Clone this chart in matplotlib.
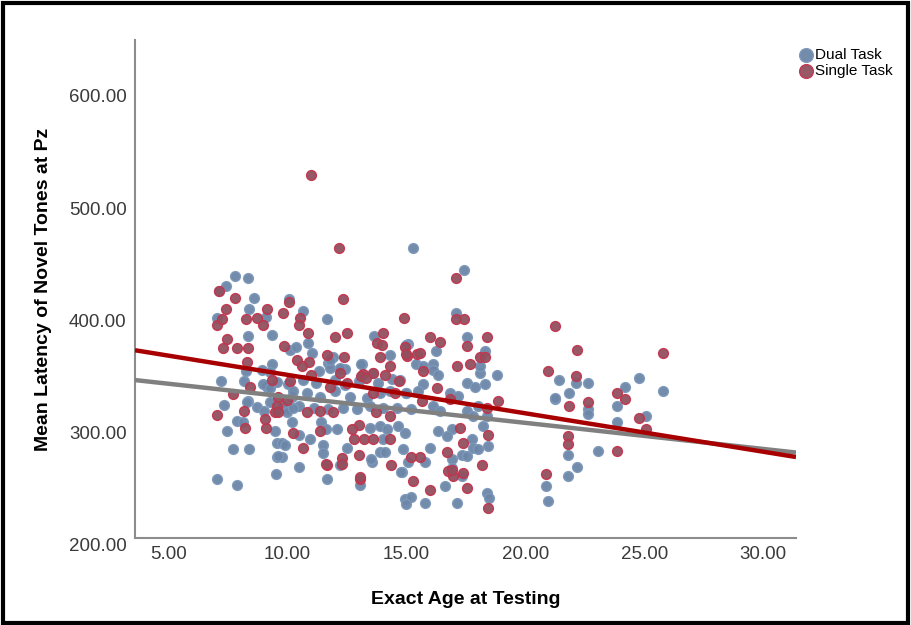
import matplotlib
matplotlib.use("Agg")
import matplotlib.pyplot as plt
from matplotlib.patches import Rectangle

# data
dual_age = [7.79, 8.33, 7.42, 7.13, 8.59, 8.40, 7.05, 9.10, 9.33, 8.35, 8.26, 8.92, 9.33, 7.19,
            8.17, 8.35, 7.33, 7.89, 8.14, 7.47, 9.47, 7.72, 8.39, 9.57, 9.57, 7.05, 7.89, 9.52,
            8.70, 9.00, 9.13, 9.26, 10.08, 10.66, 11.65, 13.65, 10.85, 10.10, 10.36, 11.02, 11.93,
            11.71, 11.79, 12.20, 12.41, 11.34, 13.11, 14.30, 15.08, 15.40, 15.26, 10.20, 10.80,
            11.37, 12.00, 12.63, 13.33, 13.90, 14.30, 15.00, 9.97, 10.50, 11.10, 11.70, 12.34,
            12.90, 13.47, 14.00, 14.60, 15.20, 10.20, 11.40, 11.60, 12.10, 13.47, 13.90, 14.20,
            14.65, 14.93, 10.50, 9.76, 10.95, 14.00, 11.50, 11.50, 12.50, 13.54, 13.90, 14.10,
            14.86, 15.08, 9.76, 12.20, 10.50, 14.80, 11.65, 13.04, 14.94, 15.20, 17.42, 17.10,
            17.53, 16.24, 18.30, 16.13, 16.13, 16.34, 18.09, 18.80, 18.10, 17.53, 17.88, 18.30,
            15.70, 16.83, 17.18, 16.13, 16.41, 17.53, 18.00, 18.37, 17.80, 16.90, 16.34, 16.69,
            18.23, 17.74, 18.43, 17.80, 18.00, 15.99, 15.78, 16.90, 17.32, 17.53, 16.90, 17.32,
            16.62, 18.37, 18.48, 17.13, 15.78, 20.86, 20.96, 21.24, 21.42, 22.12, 22.64, 21.24,
            21.84, 22.64, 22.64, 24.18, 24.78, 23.83, 25.80, 25.06, 23.86, 23.06, 21.80, 22.18,
            21.80, 13.50, 14.77, 14.96,
            8.98, 9.26, 9.54, 10.03, 10.24, 9.26, 8.29, 9.82, 9.97, 10.24, 9.90, 9.61,
            10.66, 11.79, 12.20, 12.00, 13.10, 13.60, 14.72, 15.00, 15.70, 15.50, 15.00,
            11.20, 12.40, 13.00, 13.80, 14.40]
dual_lat = [434, 432, 425, 420, 414, 404, 396, 397, 381, 380, 349, 350, 355, 340,
            340, 322, 319, 304, 303, 295, 295, 279, 279, 285, 272, 253, 247, 257,
            317, 313, 335, 321, 413, 402, 395, 380, 374, 368, 370, 365, 361,
            356, 352, 351, 351, 349, 355, 363, 373, 355, 459, 326, 329,
            326, 331, 326, 325, 329, 331, 329, 316, 318, 316, 315, 316,
            315, 318, 316, 316, 315, 303, 303, 297, 297, 298, 300, 297,
            300, 294, 292, 285, 288, 288, 283, 276, 280, 268, 277, 277,
            279, 268, 272, 265, 263, 259, 253, 247, 235, 237, 439, 401,
            379, 367, 367, 355, 350, 345, 347, 345, 353, 338, 335, 337,
            337, 329, 327, 318, 313, 313, 318, 309, 309, 297, 295, 291,
            300, 288, 282, 280, 279, 280, 268, 270, 274, 273, 262, 255,
            246, 240, 236, 231, 231, 246, 233, 324, 341, 338, 338, 325,
            329, 315, 311, 335, 343, 318, 331, 309, 303, 278, 274, 263,
            255, 270, 259, 230,
            337, 334, 339, 337, 331, 348, 321, 318, 312, 316, 283, 273,
            341, 359, 352, 341, 355, 347, 341, 372, 353, 331, 329,
            338, 336, 340, 338, 342]

single_age = [7.79, 7.42, 7.05, 7.24, 8.26, 8.73, 9.13, 8.98, 7.47, 7.30, 7.87, 8.35, 8.31,
              8.42, 7.72, 7.05, 8.17, 8.21, 9.10, 9.47, 9.05, 7.13, 12.16, 12.34, 10.08, 9.80,
              10.52, 10.50, 14.89, 10.85, 12.00, 12.49, 14.00, 13.75, 13.96, 9.85, 10.39, 10.92,
              10.60, 11.65, 12.39, 13.16, 13.60, 14.10, 13.89, 14.93, 15.03, 15.43, 10.10, 11.80,
              12.50, 13.60, 14.50, 10.80, 11.37, 11.90, 13.70, 14.30, 13.00, 10.24, 11.37, 12.70,
              12.80, 13.20, 13.60, 14.30, 10.66, 13.00, 15.20, 11.65, 12.30, 14.35, 13.04, 15.26,
              17.10, 17.10, 17.42, 15.99, 16.40, 17.53, 18.37, 15.57, 18.09, 18.30, 17.13, 17.67,
              15.70, 21.24, 20.96, 18.86, 16.27, 16.83, 15.64, 18.37, 17.25, 18.43, 17.38, 16.69,
              15.57, 18.16, 16.76, 16.97, 17.38, 15.99, 17.53, 18.43, 20.86, 22.18, 22.12, 21.84,
              22.61, 23.83, 24.18, 25.80, 24.78, 25.06, 21.80, 21.80, 23.86, 11.60, 12.28, 13.05,
              16.90, 10.99,
              9.33, 9.61, 9.97, 9.54, 9.61, 13.10, 14.30, 15.00, 11.00, 12.20, 13.30, 14.70]
single_lat = [414, 404, 390, 395, 395, 396, 404, 390, 377, 369, 369, 369, 357,
              335, 328, 310, 313, 298, 298, 312, 306, 420, 459, 413, 410, 401,
              396, 390, 396, 383, 379, 383, 383, 374, 372, 371, 359, 357,
              353, 363, 361, 346, 347, 345, 361, 370, 362, 364, 340, 335,
              338, 329, 329, 312, 313, 312, 312, 309, 301, 294, 295, 297,
              288, 288, 288, 288, 280, 274, 272, 265, 271, 265, 253, 251,
              432, 395, 395, 379, 375, 371, 379, 365, 361, 361, 353, 355,
              349, 389, 349, 322, 334, 324, 322, 316, 298, 292, 285, 277,
              272, 265, 260, 255, 258, 243, 245, 227, 257, 368, 344, 318,
              321, 329, 324, 365, 307, 297, 291, 284, 278, 266, 266, 254,
              261, 524,
              341, 326, 323, 318, 312, 344, 353, 364, 345, 347, 343, 340]

# fit lines (ends at the axis limits)
fit_x = [3.59, 31.37]
dual_fit = [340.8, 276.2]
single_fit = [367.4, 272.2]

xticks = [5, 10, 15, 20, 25, 30]
yticks = [200, 300, 400, 500, 600]

dual_face = '#6c86a8'
dual_edge = '#7d98ba'
single_face = '#92505f'
single_edge = '#c3344e'

plt.rcParams['font.family'] = ['Liberation Sans', 'DejaVu Sans']

fig = plt.figure(figsize=(9.11, 6.25), dpi=100)
ax = fig.add_axes([135 / 911, 1 - 538 / 625, (796 - 135) / 911, (538 - 40) / 625])

ax.scatter(dual_age, dual_lat, s=50, c=dual_face, edgecolors=dual_edge, linewidths=1.0,
           alpha=0.95, zorder=2, label='Dual Task')
ax.scatter(single_age, single_lat, s=50, c=single_face, edgecolors=single_edge, linewidths=1.0,
           alpha=0.95, zorder=2, label='Single Task')

ax.plot(fit_x, dual_fit, color='#808080', lw=3.2, zorder=3, solid_capstyle='butt')
ax.plot(fit_x, single_fit, color='#a80000', lw=3.2, zorder=3, solid_capstyle='butt')

ax.set_xlim(fit_x[0], fit_x[1])
ax.set_ylim(200, 644)
ax.set_xticks(xticks)
ax.set_xticklabels(['%.2f' % v for v in xticks])
ax.set_yticks(yticks)
ax.set_yticklabels(['%.2f' % v for v in yticks])
ax.tick_params(length=0, labelsize=13.5, labelcolor='#3a3a3a', pad=6)
for lab in ax.get_yticklabels():
    lab.set_verticalalignment('top')

for s in ['top', 'right']:
    ax.spines[s].set_visible(False)
for s in ['left', 'bottom']:
    ax.spines[s].set_color('#8c8c8c')
    ax.spines[s].set_linewidth(1.5)

ax.set_xlabel('Exact Age at Testing', fontsize=14, fontweight='bold', labelpad=20)
ax.set_ylabel('Mean Latency of Novel Tones at Pz', fontsize=14, fontweight='bold', labelpad=12)

leg = fig.legend(loc='upper left', bbox_to_anchor=(791 / 911, 1 - 40 / 625), frameon=False,
                 fontsize=11, handletextpad=0.05, labelspacing=0.15, borderpad=0,
                 handlelength=1.0, markerscale=1.4)

# black outer frame
fig.patches.append(Rectangle((0.003, 0.004), 0.994, 0.992, transform=fig.transFigure,
                             fill=False, edgecolor='black', lw=3))

fig.savefig('out.png', dpi=100, facecolor='white')
